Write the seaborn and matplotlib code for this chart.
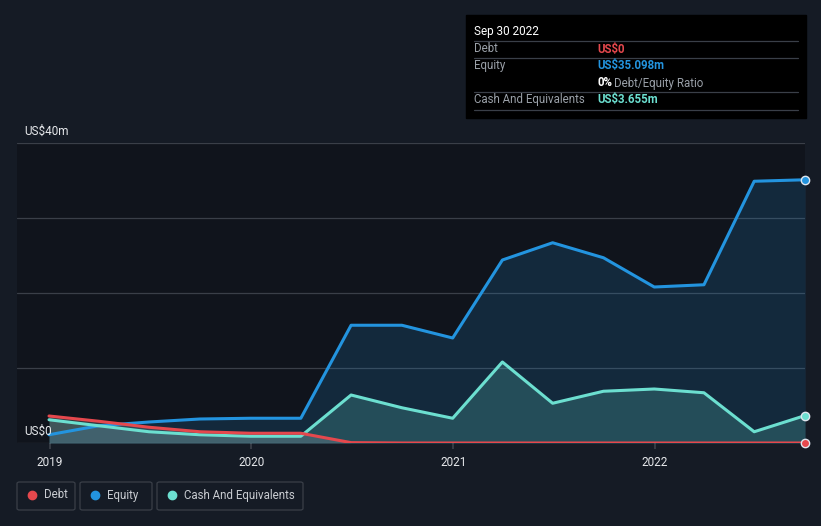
import pandas as pd
import matplotlib
import matplotlib.pyplot as plt
from matplotlib.patches import FancyBboxPatch, Rectangle
from matplotlib.lines import Line2D
import seaborn as sns

matplotlib.use('Agg')

# Données (US$m), trimestrielles
dates = ['2018-12-31', '2019-03-31', '2019-06-30', '2019-09-30', '2019-12-31',
         '2020-03-31', '2020-06-30', '2020-09-30', '2020-12-31',
         '2021-03-31', '2021-06-30', '2021-09-30', '2021-12-31',
         '2022-03-31', '2022-06-30', '2022-09-30']
debt = [3.6, 2.9, 2.1, 1.5, 1.3, 1.3, 0.05, 0, 0, 0, 0, 0, 0, 0, 0, 0]
equity = [1.1, 2.3, 2.8, 3.2, 3.3, 3.3, 15.7, 15.7, 14.0, 24.4, 26.7, 24.7, 20.8, 21.1, 34.9, 35.098]
cash = [3.1, 2.3, 1.5, 1.1, 0.9, 0.9, 6.4, 4.7, 3.3, 10.8, 5.3, 6.9, 7.2, 6.7, 1.5, 3.655]
years = ['2019', '2020', '2021', '2022']
y_labels = ['US$0', 'US$40m']

df = pd.DataFrame({'Date': pd.to_datetime(dates), 'Debt': debt,
                   'Equity': equity, 'Cash And Equivalents': cash})

C_DEBT = '#e5484d'
C_EQ = '#2394df'
C_CASH = '#6cdfd0'
BG = '#151b25'

sns.set_theme(style="dark")
plt.rcParams['font.family'] = ['Roboto', 'DejaVu Sans']

W, H = 821, 526
fig = plt.figure(figsize=(W / 100, H / 100), dpi=100, facecolor=BG)
ax = fig.add_axes([17 / W, 83 / H, 788 / W, 300 / H])
ax.set_facecolor('#10141c')

# remplissages
ax.fill_between(df['Date'], df['Equity'], color=C_EQ, alpha=0.17, lw=0)
ax.fill_between(df['Date'], df['Cash And Equivalents'], color=C_CASH, alpha=0.2, lw=0)
ax.fill_between(df['Date'], df['Debt'], color='#9aa0aa', alpha=0.25, lw=0)

sns.lineplot(data=df, x='Date', y='Equity', color=C_EQ, lw=2.2, ax=ax)
sns.lineplot(data=df, x='Date', y='Cash And Equivalents', color=C_CASH, lw=2.2, ax=ax)
sns.lineplot(data=df, x='Date', y='Debt', color=C_DEBT, lw=2.2, ax=ax)

last = df.iloc[-1]
for col, c in [('Equity', C_EQ), ('Cash And Equivalents', C_CASH), ('Debt', C_DEBT)]:
    ax.plot(last['Date'], last[col], 'o', ms=6, color=c, mec='#dfe6ee', mew=1,
            clip_on=False, zorder=5)

ax.set_xlim(pd.Timestamp('2018-11-03'), pd.Timestamp('2022-09-30'))
ax.set_ylim(0, 40)
for v in [0, 10, 20, 30, 40]:
    ax.axhline(v, color='#3a3f48', lw=0.9, zorder=0)
ax.set_yticks([])
ax.set_xticks(pd.to_datetime([y + '-01-01' for y in years]))
ax.set_xticklabels(years, color='#e6e8eb', fontsize=8.5)
ax.tick_params(axis='x', length=4, color='#3a3f48', pad=5, bottom=True)
ax.set_xlabel('')
ax.set_ylabel('')
ax.grid(False)
for s in ax.spines.values():
    s.set_visible(False)

# étiquettes de l'axe y
fig.text(24 / W, 1 - 131 / H, y_labels[1], color='#e6e8eb', fontsize=8.5, va='center')
fig.text(24 / W, 1 - 431 / H, y_labels[0], color='#e6e8eb', fontsize=8.5, va='center')

# infobulle
fig.patches.append(Rectangle((466 / W, 1 - 118 / H), 340 / W, 103 / H,
                             transform=fig.transFigure, color='black', zorder=10))
fig.text(474 / W, 1 - 31 / H, 'Sep 30 2022', color='white', fontsize=8.5, va='center', zorder=11)
for yy in [41, 58, 92, 110]:
    fig.add_artist(Line2D([474 / W, 798 / W], [1 - yy / H, 1 - yy / H], color='#3a3f48',
                          lw=0.9, zorder=11))
rows = [(49, 'Debt', 'US$0', C_DEBT), (66, 'Equity', 'US$35.098m', C_EQ),
        (100, 'Cash And Equivalents', 'US$3.655m', C_CASH)]
for yy, lab, val, c in rows:
    fig.text(474 / W, 1 - yy / H, lab, color='#9aa0a8', fontsize=8.3, va='center', zorder=11)
    fig.text(597 / W, 1 - yy / H, val, color=c, fontsize=8.3, va='center',
             fontweight='bold', zorder=11)
fig.text(597 / W, 1 - 83 / H, '0%', color='white', fontsize=8.3, va='center',
         fontweight='bold', zorder=11)
fig.text(614 / W, 1 - 83 / H, 'Debt/Equity Ratio', color='#9aa0a8', fontsize=8.3,
         va='center', zorder=11)

# légende
leg = [('Debt', C_DEBT, 17, 75), ('Equity', C_EQ, 80, 152),
       ('Cash And Equivalents', C_CASH, 157, 303)]
for lab, c, x0, x1 in leg:
    fig.patches.append(FancyBboxPatch((x0 / W, 1 - 510 / H), (x1 - x0) / W, 28 / H,
                                      boxstyle='round,pad=0,rounding_size=0.003',
                                      transform=fig.transFigure, fc=BG, ec='#3a3f48', lw=0.9))
    fig.add_artist(Line2D([(x0 + 15) / W], [1 - 495 / H], marker='o', ms=6, color=c, lw=0))
    fig.text((x0 + 27) / W, 1 - 495 / H, lab, color='#c9ccd1', fontsize=8.3, va='center')

plt.savefig("out.png", dpi=100, facecolor=BG)
